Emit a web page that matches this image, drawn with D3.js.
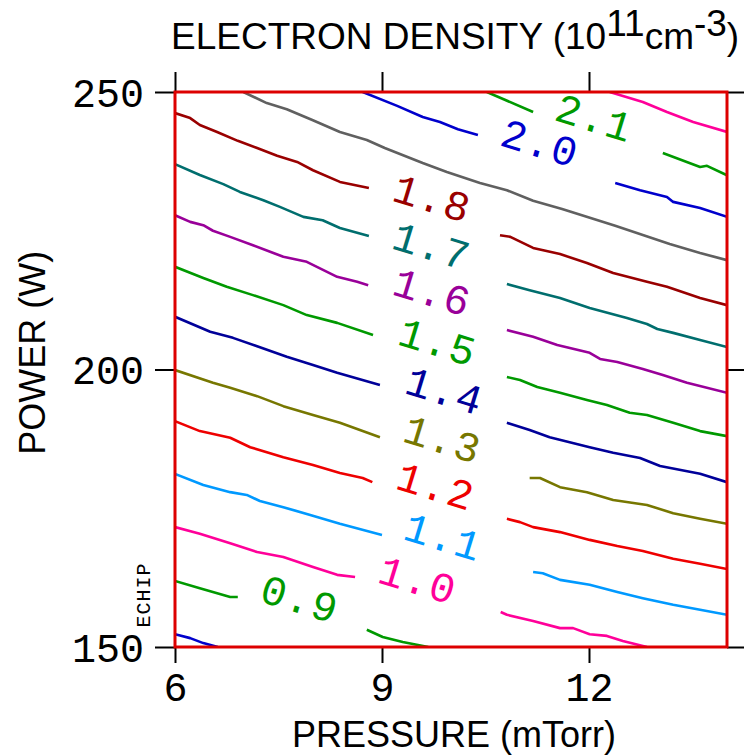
<!DOCTYPE html>
<html>
<head>
<meta charset="utf-8">
<script src="https://cdn.jsdelivr.net/npm/d3@7"></script>
<style>
  html, body { margin: 0; padding: 0; background: #fff; }
  svg { display: block; }
</style>
</head>
<body>
<svg id="chart" width="744" height="755"></svg>
<script>
// contour levels (10^11 cm^-3) and their line colours
const levels = [0.8, 0.9, 1.0, 1.1, 1.2, 1.3, 1.4, 1.5, 1.6, 1.7, 1.8, 1.9, 2.0, 2.1, 2.2];
const levelColors = ["#0000cc", "#009900", "#ff0099", "#0099ff", "#ee0000", "#777700", "#000099",
  "#009900", "#990099", "#006e6e", "#990000", "#606060", "#0000cc", "#009900", "#ff0099"];

// contour pieces as [pressure (mTorr), power (W)], broken where the labels sit
const c08 = [[[6.0, 152.3], [6.22, 151.6], [6.41, 150.7], [6.62, 150.0]]];
const c09 = [
  [[6.0, 161.9], [6.36, 160.6], [6.80, 159.0], [6.91, 159.0]],
  [[8.78, 153.1], [9.01, 151.8], [9.30, 150.9], [9.67, 150.0]]
];
const c10 = [
  [[6.0, 171.6], [6.36, 170.4], [6.80, 168.7], [7.19, 167.1], [7.57, 166.2], [8.0, 164.4], [8.35, 163.0], [8.61, 162.6]],
  [[10.72, 156.3], [10.81, 155.8], [11.19, 154.7], [11.58, 153.4], [11.77, 153.4], [12.01, 152.3], [12.26, 152.0], [12.49, 151.1], [12.84, 150.0]]
];
const c11 = [
  [[6.0, 181.2], [6.41, 179.2], [6.80, 177.9], [7.04, 177.4], [7.23, 176.3], [7.57, 175.2], [7.96, 173.8], [8.39, 172.2], [9.0, 170.2]],
  [[11.19, 163.5], [11.33, 163.3], [11.58, 162.1], [12.01, 161.2], [12.41, 159.9], [12.78, 158.8], [13.22, 157.6], [13.61, 156.7], [14.0, 155.8]]
];
const c12 = [
  [[6.0, 190.7], [6.36, 188.9], [6.80, 187.7], [7.09, 186.0], [7.57, 184.2], [8.0, 182.8], [8.39, 181.35], [8.72, 180.45], [8.86, 179.7]],
  [[10.81, 173.1], [11.0, 172.5], [11.19, 171.6], [11.58, 170.7], [12.01, 169.3], [12.41, 168.2], [12.78, 167.3], [13.22, 165.9], [13.61, 165.0], [14.0, 164.05]]
];
const c13 = [
  [[6.0, 199.9], [6.55, 197.6], [6.80, 196.7], [7.19, 195.2], [7.57, 193.4], [8.0, 191.8], [8.39, 190.4], [8.97, 187.8]],
  [[11.14, 180.45], [11.29, 180.45], [11.58, 178.8], [11.97, 177.9], [12.35, 176.5], [12.84, 175.6], [13.22, 174.1], [13.61, 173.1], [14.0, 172.2]]
];
const c14 = [
  [[6.0, 209.5], [6.51, 206.8], [6.84, 205.7], [7.19, 204.2], [7.62, 202.3], [8.0, 200.8], [8.35, 199.4], [8.97, 197.2]],
  [[10.81, 190.4], [11.14, 189.1], [11.43, 187.8], [12.01, 186.0], [12.35, 185.0], [12.74, 184.05], [13.03, 182.6], [13.61, 181.2], [14.0, 179.7]]
];
const c15 = [
  [[6.0, 218.5], [6.41, 216.5], [6.75, 214.9], [7.13, 213.4], [7.57, 211.6], [7.91, 209.8], [8.35, 208.4], [8.87, 206.2]],
  [[10.81, 198.65], [11.0, 198.1], [11.25, 196.85], [11.58, 195.8], [11.97, 194.5], [12.26, 193.6], [12.59, 192.2], [12.84, 191.8], [13.22, 190.4], [13.61, 188.9], [14.0, 188.0]]
];
const c16 = [
  [[6.0, 227.8], [6.22, 226.6], [6.41, 226.0], [6.55, 225.0], [6.80, 223.9], [7.13, 222.4], [7.57, 220.3], [7.91, 219.4], [8.35, 216.7], [8.64, 215.8], [8.80, 215.2]],
  [[10.81, 207.1], [11.19, 205.9], [11.54, 204.4], [12.01, 203.0], [12.16, 201.9], [12.41, 201.35], [12.78, 200.1], [13.07, 199.0], [13.42, 197.6], [14.0, 195.8]]
];
const c17 = [
  [[6.0, 237.0], [6.36, 235.05], [6.70, 233.4], [6.94, 232.0], [7.28, 230.5], [7.52, 229.3], [7.86, 227.5], [8.14, 226.9], [8.39, 225.5], [8.81, 224.05]],
  [[10.81, 215.4], [11.14, 214.3], [11.58, 212.9], [12.01, 211.1], [12.55, 209.3], [12.84, 208.2], [12.99, 207.3], [13.22, 206.6], [13.61, 205.3], [14.0, 204.05]]
];
const c18 = [
  [[6.0, 246.2], [6.22, 245.3], [6.36, 244.05], [6.61, 242.8], [6.91, 241.2], [7.19, 239.9], [7.48, 238.5], [7.77, 237.4], [8.0, 235.9], [8.39, 233.8], [8.81, 232.7]],
  [[10.71, 224.2], [10.86, 223.9], [11.19, 221.9], [11.58, 220.8], [11.97, 219.2], [12.35, 217.4], [12.84, 215.8], [13.13, 214.9], [13.61, 212.9], [14.0, 211.6]]
];
const c19 = [
  [[6.99, 250.0], [7.33, 248.0], [7.62, 246.9], [7.99, 244.95], [8.39, 242.8], [8.78, 241.35], [9.04, 239.9], [9.59, 237.2], [9.94, 235.6],
   [10.42, 233.6], [10.81, 232.3], [11.19, 230.4], [11.61, 228.9], [12.38, 225.9], [13.17, 222.6], [13.61, 221.0], [14.0, 219.7]]
];
const c20 = [
  [[8.72, 250.0], [9.22, 247.5], [9.59, 245.5], [9.84, 244.6], [10.10, 243.3], [10.39, 242.25]],
  [[12.38, 233.6], [12.74, 232.3], [13.13, 231.1], [13.22, 230.2], [13.61, 229.1], [14.0, 227.5]]
];
const c21 = [
  [[10.52, 250.0], [11.19, 246.4]],
  [[13.07, 239.0], [13.61, 236.5], [13.71, 236.7], [14.0, 235.0]]
];
const c22 = [[[12.30, 250.0], [12.78, 248.2], [13.13, 246.4], [13.51, 244.6], [14.0, 242.8]]];
const contourPieces = [c08, c09, c10, c11, c12, c13, c14, c15, c16, c17, c18, c19, c20, c21, c22];

// in-line labels: text and where they sit (pressure, power)
const labelText = ["0.9", "1.0", "1.1", "1.2", "1.3", "1.4", "1.5", "1.6", "1.7", "1.8", "2.0", "2.1"];
const labelP = [7.80, 9.51, 9.88, 9.77, 9.87, 9.90, 9.80, 9.72, 9.71, 9.72, 11.28, 12.07];
const labelW = [158.3, 161.7, 169.5, 178.6, 187.1, 195.8, 204.6, 213.6, 221.9, 230.5, 240.45, 245.0];

const xTicks = [6, 9, 12];
const yTicks = [150, 200, 250];

const svg = d3.select("#chart");
const margin = { top: 92, right: 17, bottom: 108, left: 175 };
const W = 744 - margin.left - margin.right;
const H = 755 - margin.top - margin.bottom;

const x = d3.scaleLinear().domain([6, 14]).range([margin.left, margin.left + W]);
const y = d3.scaleLinear().domain([150, 250]).range([margin.top + H, margin.top]);

const hershey = "'Liberation Mono', 'DejaVu Sans Mono', monospace";
const sans = "'Liberation Sans', Arial, sans-serif";

svg.append("defs").append("clipPath").attr("id", "plotclip")
  .append("rect")
  .attr("x", x(6)).attr("y", y(250))
  .attr("width", x(14) - x(6)).attr("height", y(150) - y(250));

// contours
const line = d3.line().x(d => x(d[0])).y(d => y(d[1]));
const cg = svg.append("g").attr("clip-path", "url(#plotclip)");
contourPieces.forEach((pieces, i) => {
  pieces.forEach(seg => {
    cg.append("path")
      .attr("d", line(seg))
      .attr("fill", "none")
      .attr("stroke", levelColors[i])
      .attr("stroke-width", 2.6)
      .attr("stroke-linejoin", "round");
  });
});

// labels
labelText.forEach((t, i) => {
  const col = levelColors[levels.indexOf(+t)];
  svg.append("text")
    .attr("transform", `translate(${x(labelP[i])},${y(labelW[i])}) rotate(17)`)
    .attr("y", 12)
    .attr("text-anchor", "middle")
    .attr("font-family", hershey)
    .attr("font-size", 42)
    .attr("letter-spacing", 1)
    .attr("fill", col)
    .text(t);
});

// axes
function styleAxis(g) {
  g.select(".domain").remove();
  g.selectAll(".tick line").attr("stroke", "#000").attr("stroke-width", 2);
  g.selectAll(".tick text").attr("font-family", hershey).attr("font-size", 40).attr("fill", "#000");
}

svg.append("g")
  .attr("transform", `translate(${x(6)},0)`)
  .call(d3.axisLeft(y).tickValues(yTicks).tickSize(20).tickPadding(11).tickFormat(d3.format("d")))
  .call(styleAxis)
  .selectAll(".tick text").attr("dy", "0.36em");

svg.append("g")
  .attr("transform", `translate(${x(14)},0)`)
  .call(d3.axisRight(y).tickValues(yTicks).tickSize(17).tickFormat(""))
  .call(styleAxis);

svg.append("g")
  .attr("transform", `translate(0,${y(150)})`)
  .call(d3.axisBottom(x).tickValues(xTicks).tickSize(16).tickPadding(10).tickFormat(d3.format("d")))
  .call(styleAxis)
  .selectAll(".tick text").attr("dy", "0.71em");

svg.append("g")
  .attr("transform", `translate(0,${y(250)})`)
  .call(d3.axisTop(x).tickValues(xTicks).tickSize(20).tickFormat(""))
  .call(styleAxis);

// red frame
svg.append("rect")
  .attr("x", x(6)).attr("y", y(250))
  .attr("width", x(14) - x(6)).attr("height", y(150) - y(250))
  .attr("fill", "none")
  .attr("stroke", "#dd0000")
  .attr("stroke-width", 3);

// titles
const title = svg.append("text")
  .attr("x", 171).attr("y", 49)
  .attr("font-family", sans).attr("font-size", 37).attr("fill", "#000");
title.append("tspan").text("ELECTRON DENSITY (10");
title.append("tspan").attr("dy", -13).text("11");
title.append("tspan").attr("dy", 13).text("cm");
title.append("tspan").attr("dy", -13).text("-3");
title.append("tspan").attr("dy", 13).text(")");

svg.append("text")
  .attr("transform", `translate(45,${y(203)}) rotate(-90)`)
  .attr("text-anchor", "middle")
  .attr("font-family", sans).attr("font-size", 36).attr("fill", "#000")
  .text("POWER (W)");

svg.append("text")
  .attr("x", 454).attr("y", 747)
  .attr("text-anchor", "middle")
  .attr("font-family", sans).attr("font-size", 36).attr("fill", "#000")
  .text("PRESSURE (mTorr)");

// small plot tag
svg.append("text")
  .attr("transform", "translate(150,595) rotate(-90)")
  .attr("text-anchor", "middle")
  .attr("font-family", hershey).attr("font-size", 20)
  .attr("letter-spacing", 1)
  .attr("fill", "#000")
  .text("ECHIP");
</script>
</body>
</html>
